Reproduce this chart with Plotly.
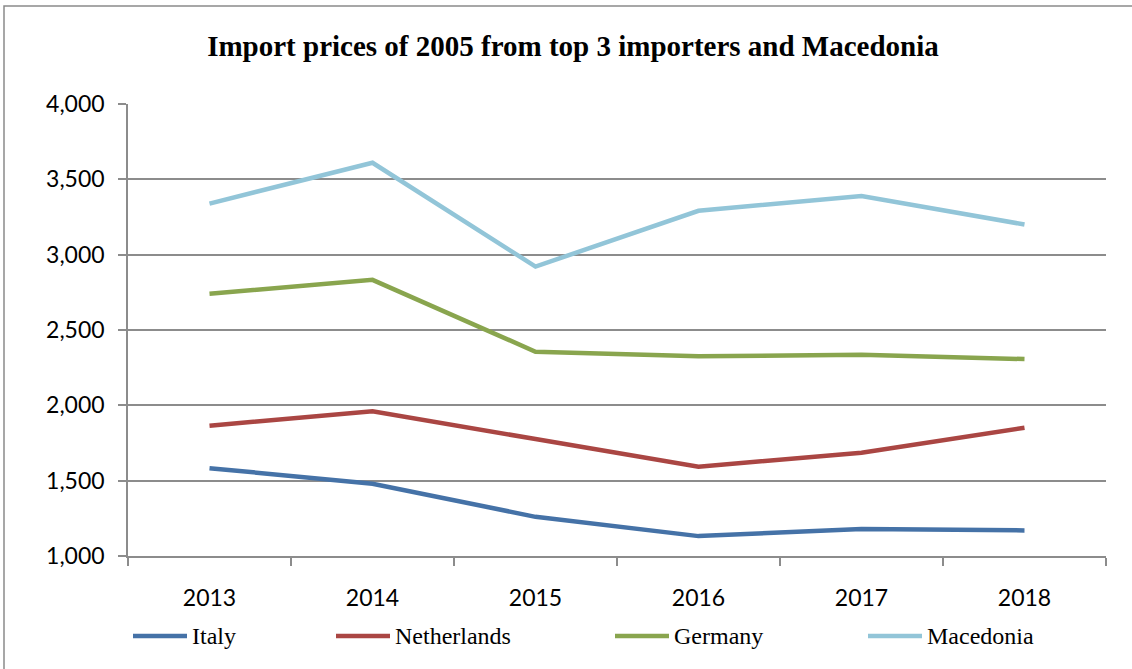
import plotly.graph_objects as go

# Import prices (2005 prices) by source country
years = ["2013", "2014", "2015", "2016", "2017", "2018"]
italy = [1583, 1480, 1260, 1132, 1179, 1170]
netherlands = [1865, 1960, 1776, 1593, 1685, 1851]
germany = [2740, 2833, 2356, 2325, 2336, 2307]
macedonia = [3339, 3610, 2921, 3291, 3390, 3200]

series_names = ["Italy", "Netherlands", "Germany", "Macedonia"]
series_values = [italy, netherlands, germany, macedonia]
colors = ["#4572A7", "#AA4643", "#89A54E", "#92C5D8"]

W, H = 1132, 669
L, R, T, B = 128, 26, 104, 113
pw, ph = W - L - R, H - T - B


def px(x):
    return (x - L) / pw


def py(y):
    return (H - B - y) / ph


fig = go.Figure()
for name, vals, col in zip(series_names, series_values, colors):
    fig.add_trace(go.Scatter(
        x=years, y=vals, name=name, mode="lines",
        line=dict(color=col, width=4.5),
        showlegend=False,
    ))

grid = "#8C8C8C"
fig.update_layout(
    width=W, height=H,
    margin=dict(l=L, r=R, t=T, b=B),
    paper_bgcolor="white", plot_bgcolor="white",
    title=dict(
        text="<b>Import prices of 2005 from top 3 importers and Macedonia</b>",
        x=573 / W, xanchor="center", y=1 - 46 / H, yanchor="middle",
        font=dict(family="Liberation Serif", size=29, color="black"),
    ),
    xaxis=dict(
        type="category", range=[-0.5, 5.5],
        tickson="boundaries", ticks="outside", ticklen=8, tickcolor=grid, tickwidth=1.5,
        showline=True, linecolor=grid, linewidth=1.5,
        showgrid=False, zeroline=False,
        tickfont=dict(family="Lato", size=23, color="black"),
        ticklabelstandoff=21,
    ),
    yaxis=dict(
        range=[1000, 4000], dtick=500, tickformat=",",
        ticks="outside", ticklen=8, tickcolor=grid, tickwidth=1.5,
        showline=True, linecolor=grid, linewidth=1.5,
        showgrid=True, gridcolor=grid, gridwidth=1.5, zeroline=False,
        tickfont=dict(family="Lato", size=23, color="black"),
        ticklabelstandoff=9,
    ),
)

# Outer chart frame
fig.add_shape(type="rect", xref="paper", yref="paper",
              x0=px(4), x1=px(W + 20), y0=py(H + 20), y1=py(6),
              line=dict(color="#8A8A8A", width=1.5), fillcolor="rgba(0,0,0,0)",
              layer="below")

# Legend along the bottom
legend_x = [133, 336, 615, 868]
legend_y = 636
seg = 54
for name, col, x0 in zip(series_names, colors, legend_x):
    fig.add_shape(type="line", xref="paper", yref="paper",
                  x0=px(x0), x1=px(x0 + seg), y0=py(legend_y), y1=py(legend_y),
                  line=dict(color=col, width=4.5))
    fig.add_annotation(xref="paper", yref="paper",
                       x=px(x0 + seg + 3), y=py(legend_y),
                       xanchor="left", yanchor="middle", showarrow=False,
                       text=name,
                       font=dict(family="Liberation Serif", size=24, color="black"))

fig.write_html("out.html")
